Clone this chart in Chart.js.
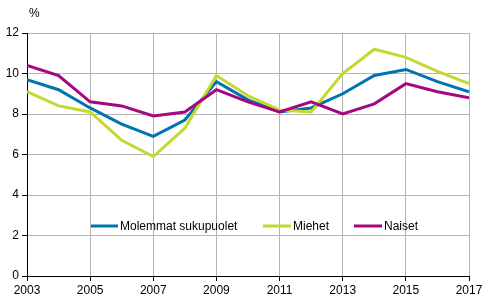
<!DOCTYPE html>
<html>
<head>
<meta charset="utf-8">
<script src="https://cdn.jsdelivr.net/npm/chart.js@4/dist/chart.umd.min.js"></script>
<style>
  html, body { margin: 0; padding: 0; background: #fff; }
  #wrap { width: 491px; height: 303px; position: relative; }
</style>
</head>
<body>
<div id="wrap"><canvas id="c" width="491" height="303"></canvas></div>
<script>
const years = [2003, 2004, 2005, 2006, 2007, 2008, 2009, 2010, 2011, 2012, 2013, 2014, 2015, 2016, 2017];
const molemmat = [9.7, 9.2, 8.3, 7.5, 6.9, 7.7, 9.6, 8.7, 8.1, 8.3, 9.0, 9.9, 10.2, 9.6, 9.1];
const miehet   = [9.1, 8.4, 8.1, 6.7, 5.9, 7.3, 9.9, 8.9, 8.2, 8.1, 10.0, 11.2, 10.8, 10.1, 9.5];
const naiset   = [10.4, 9.9, 8.6, 8.4, 7.9, 8.1, 9.2, 8.6, 8.1, 8.6, 8.0, 8.5, 9.5, 9.1, 8.8];
const seriesNames = ['Molemmat sukupuolet', 'Miehet', 'Naiset'];
const unitLabel = '%';

const colors = ['#0073b0', '#c5d82e', '#a5077f'];
const FONT = '"Liberation Sans", Arial, sans-serif';

function pts(vals) { return years.map((y, i) => ({ x: y, y: vals[i] })); }

const legendPlugin = {
  id: 'customLegend',
  afterDraw(chart) {
    const ctx = chart.ctx;
    ctx.save();
    // unit label
    ctx.fillStyle = '#000';
    ctx.font = '12px ' + FONT;
    ctx.textBaseline = 'middle';
    ctx.textAlign = 'left';
    ctx.fillText(unitLabel, 29, 14);
    // legend
    const y = 226;
    const items = [
      { x0: 91, x1: 118, tx: 120 },
      { x0: 263, x1: 291, tx: 293 },
      { x0: 354, x1: 382, tx: 384 }
    ];
    items.forEach((it, i) => {
      ctx.strokeStyle = colors[i];
      ctx.lineWidth = 3;
      ctx.beginPath();
      ctx.moveTo(it.x0, y);
      ctx.lineTo(it.x1, y);
      ctx.stroke();
      ctx.fillStyle = '#000';
      ctx.fillText(seriesNames[i], it.tx, y + 0.5);
    });
    ctx.restore();
  }
};

new Chart(document.getElementById('c'), {
  type: 'line',
  data: {
    datasets: [
      { label: seriesNames[0], data: pts(molemmat), borderColor: colors[0], order: 2 },
      { label: seriesNames[1], data: pts(miehet), borderColor: colors[1], order: 1 },
      { label: seriesNames[2], data: pts(naiset), borderColor: colors[2], order: 0 }
    ].map(d => Object.assign(d, { borderWidth: 3, pointRadius: 0, tension: 0, fill: false, backgroundColor: d.borderColor }))
  },
  options: {
    responsive: false,
    animation: false,
    devicePixelRatio: 1,
    layout: { padding: { top: 33, right: 22, left: 0, bottom: 0 } },
    plugins: { legend: { display: false }, tooltip: { enabled: false }, title: { display: false } },
    scales: {
      x: {
        type: 'linear',
        min: 2003, max: 2017,
        afterFit(s) { s.height = 27; },
        border: { display: true, color: '#000', width: 1 },
        grid: { color: '#b4b4b4', lineWidth: 1, tickColor: '#000', tickLength: 5, drawTicks: true },
        ticks: {
          stepSize: 2, padding: 2, color: '#000', maxRotation: 0,
          font: { family: FONT, size: 12 },
          callback: v => String(v)
        }
      },
      y: {
        min: 0, max: 12,
        afterFit(s) { s.width = 27; },
        border: { display: true, color: '#000', width: 1 },
        grid: { color: '#b4b4b4', lineWidth: 1, tickColor: '#000', tickLength: 5, drawTicks: true },
        ticks: {
          stepSize: 2, padding: 3, color: '#000',
          font: { family: FONT, size: 12 }
        }
      }
    }
  },
  plugins: [legendPlugin]
});
</script>
</body>
</html>
